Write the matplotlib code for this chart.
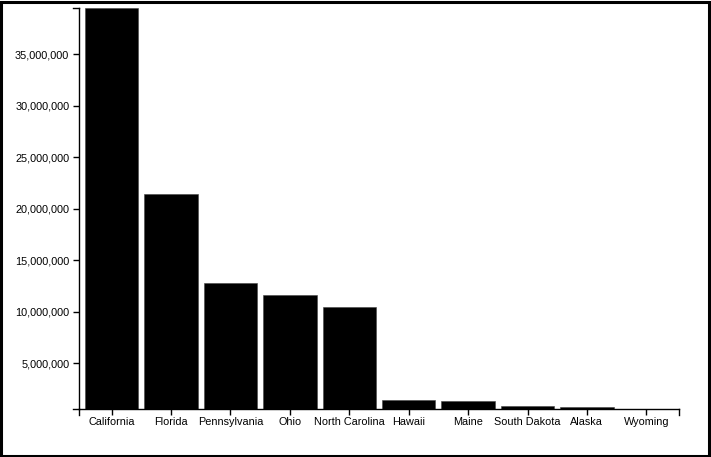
import matplotlib
matplotlib.use("Agg")
import matplotlib.pyplot as plt
from matplotlib.ticker import FuncFormatter, MultipleLocator
from matplotlib.lines import Line2D
from matplotlib.patches import Rectangle

states = ["California", "Florida", "Pennsylvania", "Ohio", "North Carolina",
          "Hawaii", "Maine", "South Dakota", "Alaska", "Wyoming"]
population = [39512223, 21477737, 12801989, 11689100, 10488084,
              1415872, 1344212, 884659, 731545, 578759]

plt.rcParams["font.family"] = ["Liberation Sans", "DejaVu Sans"]

W, H = 711, 457
fig = plt.figure(figsize=(W / 100, H / 100), dpi=100)
ax = fig.add_axes([79 / W, (H - 409) / H, 600 / W, 401 / H])

x = list(range(len(states)))
ax.bar(x, population, width=0.9, color="black", edgecolor="#444444", linewidth=0.4)

ax.set_xlim(-0.55, len(states) - 0.45)
ax.set_ylim(min(population), max(population))
ax.set_xticks(x)
ax.set_xticklabels(states)
ax.yaxis.set_major_locator(MultipleLocator(5000000))
ax.yaxis.set_major_formatter(FuncFormatter(lambda v, p: f"{int(v):,}"))

ax.spines["top"].set_visible(False)
ax.spines["right"].set_visible(False)
for s in ("left", "bottom"):
    ax.spines[s].set_linewidth(1.0)
ax.tick_params(axis="both", length=4.5, width=1.0, labelsize=7.8, colors="black")
ax.tick_params(axis="y", pad=2.5)
ax.tick_params(axis="x", pad=1.2)

# d3-style outer ticks at the ends of each axis
tx = 6 / 600
ty = 6 / 401
for (x0, x1, y0, y1) in [(-tx, 0, 0, 0), (-tx, 0, 1, 1), (0, 0, 0, -ty), (1, 1, 0, -ty)]:
    ax.add_line(Line2D([x0, x1], [y0, y1], transform=ax.transAxes,
                       color="black", linewidth=1.0, clip_on=False))

# frame around the whole picture
fig.patches.append(Rectangle((0.0015, 0.0025), 0.996, 0.994, transform=fig.transFigure,
                             fill=False, edgecolor="black", linewidth=2.2))

fig.savefig("out.png", dpi=100)
